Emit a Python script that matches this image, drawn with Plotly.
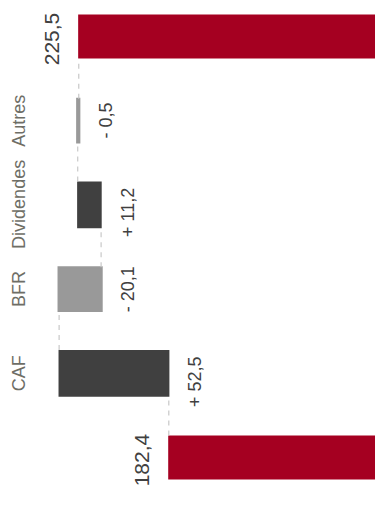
import plotly.graph_objects as go

# Bridge from opening to closing amount
start_label = "182,4"
end_label = "225,5"
steps = ["CAF", "BFR", "Dividendes", "Autres"]
start_value = 182.4
deltas = [52.5, -20.1, 11.2, -0.5]
end_value = 225.5

categories = ["Ouverture"] + steps + ["Clôture"]
values = [start_value] + deltas + [end_value]
measures = ["absolute"] + ["relative"] * len(deltas) + ["total"]
bar_widths = [0.52, 0.555, 0.52, 0.555, 0.52, 0.52]

RED = "#A50021"
DARK = "#404040"
LIGHT = "#999999"
LABEL = "#6e6e66"
FONT = "Liberation Sans, Arial, sans-serif"


def fr(v):
    return f"{v:.1f}".replace(".", ",")


fig = go.Figure(
    go.Waterfall(
        orientation="h",
        y=categories,
        x=values,
        measure=measures,
        width=bar_widths,
        increasing=dict(marker=dict(color=DARK)),
        decreasing=dict(marker=dict(color=LIGHT, line=dict(color=LIGHT, width=2))),
        totals=dict(marker=dict(color=RED)),
        connector=dict(mode="between", line=dict(color="#c8c8c8", width=1.2, dash="5px,5px")),
        hoverinfo="skip",
    )
)

annotations = []

# step names along the left edge, reading upward
for name in steps:
    annotations.append(dict(
        xref="paper", yref="y", x=19 / 375, y=name, text=name, textangle=-90,
        showarrow=False, xanchor="center", yanchor="middle",
        font=dict(family=FONT, size=18, color=LABEL),
    ))

# totals labelled just beyond the bar end
for cat, val, txt in [(categories[0], start_value, start_label), (categories[-1], end_value, end_label)]:
    annotations.append(dict(
        xref="x", yref="y", x=val, y=cat, text=txt, textangle=-90,
        showarrow=False, xanchor="center", yanchor="middle", xshift=-27, yshift=-2,
        font=dict(family=FONT, size=21, color=DARK),
    ))

# signed step values on the low side of each floating bar
level = start_value
for name, d in zip(steps, deltas):
    low = min(level, level + d)
    level += d
    sign = "+" if d > 0 else "-"
    annotations.append(dict(
        xref="x", yref="y", x=low, y=name, text=f"{sign} {fr(abs(d))}", textangle=-90,
        showarrow=False, xanchor="center", yanchor="middle", xshift=27,
        yshift=-8 if d > 0 else 0,
        font=dict(family=FONT, size=18, color=DARK),
    ))

fig.update_layout(
    width=375, height=505,
    margin=dict(l=0, r=0, t=0, b=0),
    paper_bgcolor="white", plot_bgcolor="white",
    showlegend=False,
    xaxis=dict(range=[263.2, 83.7], visible=False, showgrid=False, zeroline=False),
    yaxis=dict(range=[-0.564, 5.4335], visible=False, showgrid=False, zeroline=False,
               categoryorder="array", categoryarray=categories),
    annotations=annotations,
)

fig.write_html("out.html")
